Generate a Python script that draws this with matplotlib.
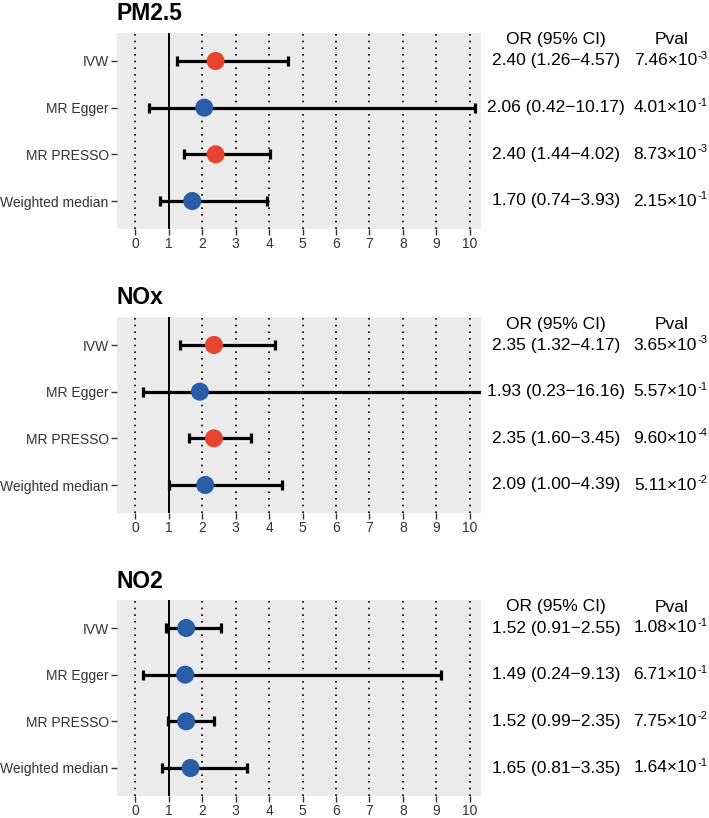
import numpy as np
import matplotlib.pyplot as plt
from matplotlib.transforms import blended_transform_factory, offset_copy

plt.rcParams['font.family'] = ['Liberation Sans', 'DejaVu Sans']

# data
methods = ['IVW', 'MR Egger', 'MR PRESSO', 'Weighted median']
exposures = ['PM2.5', 'NOx', 'NO2']

or_est = [[2.40, 2.06, 2.40, 1.70],
          [2.35, 1.93, 2.35, 2.09],
          [1.52, 1.49, 1.52, 1.65]]
ci_low = [[1.26, 0.42, 1.44, 0.74],
          [1.32, 0.23, 1.60, 1.00],
          [0.91, 0.24, 0.99, 0.81]]
ci_high = [[4.57, 10.17, 4.02, 3.93],
           [4.17, 16.16, 3.45, 4.39],
           [2.55, 9.13, 2.35, 3.35]]
pvals = [[7.46e-3, 4.01e-1, 8.73e-3, 2.15e-1],
         [3.65e-3, 5.57e-1, 9.60e-4, 5.11e-2],
         [1.08e-1, 6.71e-1, 7.75e-2, 1.64e-1]]

RED = '#E8432E'
BLUE = '#2A5DA8'

W, H = 709, 818
fig = plt.figure(figsize=(W / 100, H / 100), dpi=100)

# panel boxes in pixels: (top, bottom)
panels_px = [(33, 229), (317, 513), (600, 796)]
left_px, right_px = 117, 481

for k, name in enumerate(exposures):
    top, bot = panels_px[k]
    ax = fig.add_axes([left_px / W, 1 - bot / H, (right_px - left_px) / W, (bot - top) / H])
    ax.set_facecolor('#EBEBEB')
    for s in ax.spines.values():
        s.set_visible(False)

    ypos = np.arange(1, len(methods) + 1)
    for xv in range(0, 11):
        if xv == 1:
            ax.axvline(1, color='black', lw=1.4, zorder=1)
        else:
            ax.axvline(xv, color='black', lw=1.2, ls=(0, (1, 3)), zorder=1)

    est = np.array(or_est[k])
    lo = np.array(ci_low[k])
    hi = np.array(ci_high[k])
    pv = np.array(pvals[k])
    ax.errorbar(est, ypos, xerr=[est - lo, hi - est], fmt='none', ecolor='black',
                elinewidth=2.3, capsize=3.5, capthick=2.3, zorder=2)
    cols = [RED if p < 0.05 else BLUE for p in pv]
    ax.scatter(est, ypos, s=13 ** 2, c=cols, zorder=3, linewidths=0)

    ax.set_xlim(-0.55, 10.34)
    ax.set_ylim(4.6, 0.4)
    ax.set_xticks(range(0, 11))
    ax.set_yticks(ypos)
    ax.set_yticklabels(methods)
    ax.tick_params(axis='both', labelsize=10, color='#333333', labelcolor='#333333',
                   length=4, width=1, pad=2)
    ax.set_title(name, loc='left', fontsize=16.5, fontweight='bold', pad=9)

    tr = blended_transform_factory(fig.transFigure, ax.transData)
    tr_sup = offset_copy(tr, fig=fig, y=5, units='dots')
    ax.text(556 / W, 0.55, 'OR (95% CI)', transform=tr, ha='center', va='center',
            fontsize=12.5, clip_on=False)
    ax.text(672 / W, 0.55, 'Pval', transform=tr, ha='center', va='center',
            fontsize=12.5, clip_on=False)
    for i in range(len(methods)):
        ax.text(556 / W, ypos[i], '%.2f (%.2f\u2212%.2f)' % (est[i], lo[i], hi[i]),
                transform=tr, ha='center', va='center', fontsize=12.5, clip_on=False)
        e = int(np.floor(np.log10(pv[i])))
        m = pv[i] / 10 ** e
        ax.text(697 / W, ypos[i], '%.2f\u00d710' % m, transform=tr, ha='right',
                va='center', fontsize=12.5, clip_on=False)
        ax.text(697.5 / W, ypos[i], '%d' % e, transform=tr_sup, ha='left',
                va='center', fontsize=8, clip_on=False)

fig.savefig('out.png', dpi=100)
